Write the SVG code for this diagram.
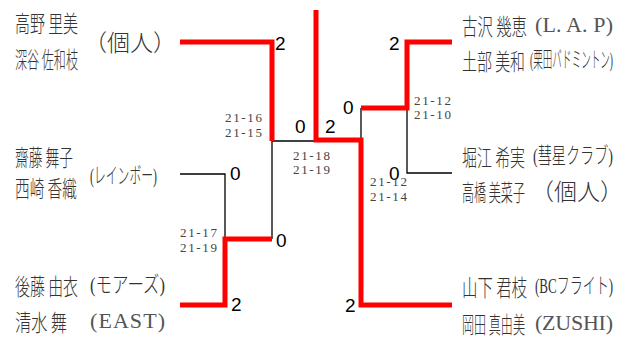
<svg xmlns="http://www.w3.org/2000/svg" width="627" height="338" viewBox="0 0 627 338">
<style>
.red{fill:none;stroke:#ff0000;stroke-width:5;stroke-linejoin:miter}
.blk{fill:none;stroke:#000;stroke-width:1.3}
.nm{font-family:"Noto Sans CJK JP",sans-serif;font-size:23px;font-weight:300;fill:#333}
.af{font-family:"Liberation Serif","Noto Sans CJK JP",serif;font-size:22px;font-weight:300;fill:#333}
.big{font-family:"Noto Sans CJK JP",sans-serif;font-size:23px;font-weight:300;fill:#333}
.lt{fill:#555}
.sc{font-family:"Liberation Sans",Arial,sans-serif;font-size:19px;fill:#000}
.pt{font-family:"Liberation Serif",serif;font-size:13px;fill:#444}
</style>
<g id="connectors">
<path class="blk" d="M272,141 H316"/>
<path class="blk" d="M361,108 V140"/>
<path class="blk" d="M407,108 V173 H452"/>
<path class="blk" d="M180,174 H225 V239"/>
<path class="blk" d="M272,141 V239"/>
<path class="red" d="M180,42 H272 V141"/>
<path class="red" d="M316,10 V140 H361 V305 H452"/>
<path class="red" d="M452,42 H407 V108 H361"/>
<path class="red" d="M272,239 H225 V305 H180"/>
</g>
<g id="scores">
<text class="sc" x="275" y="50">2</text>
<text class="sc" x="295" y="133">0</text>
<text class="sc" x="325" y="133">2</text>
<text class="sc" x="343" y="114">0</text>
<text class="sc" x="389" y="50">2</text>
<text class="sc" x="389" y="180">0</text>
<text class="sc" x="230" y="180">0</text>
<text class="sc" x="276" y="247">0</text>
<text class="sc" x="231" y="311">2</text>
<text class="sc" x="345" y="312">2</text>
</g>
<g id="points">
<text class="pt" x="225" y="122" textLength="37">21-16</text>
<text class="pt" x="225" y="137" textLength="37">21-15</text>
<text class="pt" x="293" y="160" textLength="37">21-18</text>
<text class="pt" x="293" y="174" textLength="37">21-19</text>
<text class="pt" x="180" y="237" textLength="37">21-17</text>
<text class="pt" x="180" y="252" textLength="37">21-19</text>
<text class="pt" x="414" y="105" textLength="37">21-12</text>
<text class="pt" x="414" y="119" textLength="37">21-10</text>
<text class="pt" x="370" y="186" textLength="37">21-12</text>
<text class="pt" x="370" y="201" textLength="37">21-14</text>
</g>
<g id="player-L1">
<text class="nm" x="15" y="32" textLength="63" lengthAdjust="spacingAndGlyphs">高野 里美</text>
<text class="nm" x="15" y="68" textLength="63" lengthAdjust="spacingAndGlyphs">深谷 佐和枝</text>
<text class="big" x="84" y="51">（個人）</text>
</g>
<g id="player-L2">
<text class="nm" x="15" y="166" textLength="58" lengthAdjust="spacingAndGlyphs">齋藤 舞子</text>
<text class="nm" x="15" y="197" textLength="62" lengthAdjust="spacingAndGlyphs">西崎 香織</text>
<text class="af" x="90" y="183" textLength="67" lengthAdjust="spacingAndGlyphs">(レインボー)</text>
</g>
<g id="player-L3">
<text class="nm" x="15" y="295" textLength="63" lengthAdjust="spacingAndGlyphs">後藤 由衣</text>
<text class="nm" x="15" y="331" textLength="52" lengthAdjust="spacingAndGlyphs">清水 舞</text>
<text class="af" x="90" y="292" textLength="75" lengthAdjust="spacingAndGlyphs">(モアーズ)</text>
<text class="af lt" x="90" y="328" textLength="75" lengthAdjust="spacing">(EAST)</text>
</g>
<g id="player-R1">
<text class="nm" x="462" y="35" textLength="65" lengthAdjust="spacingAndGlyphs">古沢 幾恵</text>
<text class="nm" x="462" y="70" textLength="63" lengthAdjust="spacingAndGlyphs">土部 美和</text>
<text class="af lt" x="535" y="32" textLength="78" lengthAdjust="spacing">(L. A. P)</text>
<text class="af" x="530" y="67" textLength="83" lengthAdjust="spacingAndGlyphs">(栗田バドミントン)</text>
</g>
<g id="player-R2">
<text class="nm" x="462" y="166" textLength="63" lengthAdjust="spacingAndGlyphs">堀江 希実</text>
<text class="nm" x="462" y="201" textLength="63" lengthAdjust="spacingAndGlyphs">高橋 美菜子</text>
<text class="af" x="533" y="163" textLength="80" lengthAdjust="spacingAndGlyphs">(彗星クラブ)</text>
<text class="big" x="531" y="200">（個人）</text>
</g>
<g id="player-R3">
<text class="nm" x="462" y="296" textLength="65" lengthAdjust="spacingAndGlyphs">山下 君枝</text>
<text class="nm" x="462" y="333" textLength="63" lengthAdjust="spacingAndGlyphs">岡田 真由美</text>
<text class="af" x="535" y="293" textLength="78" lengthAdjust="spacingAndGlyphs">(BCフライト)</text>
<text class="af lt" x="535" y="330" textLength="78" lengthAdjust="spacing">(ZUSHI)</text>
</g>
</svg>
